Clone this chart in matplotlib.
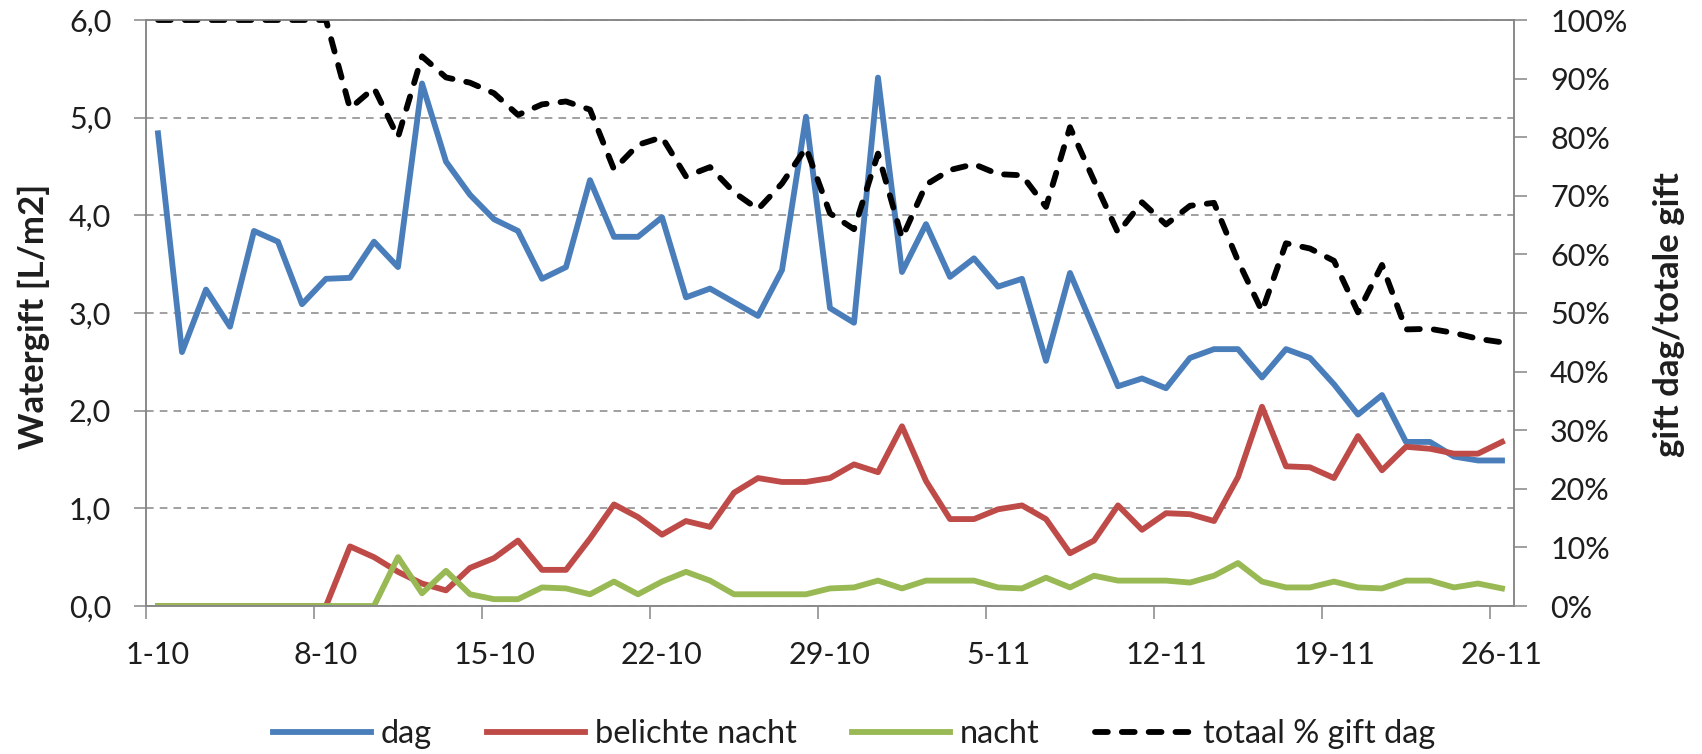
import matplotlib
matplotlib.use("Agg")
import matplotlib.pyplot as plt
from matplotlib.ticker import FixedLocator, FuncFormatter

plt.rcParams['font.family'] = ['Lato', 'DejaVu Sans']

# daily values, 1-10 .. 26-11
dag = [4.84, 2.60, 3.24, 2.86, 3.84, 3.73, 3.09, 3.35, 3.36, 3.73,
       3.47, 5.35, 4.55, 4.21, 3.96, 3.84, 3.35, 3.47, 4.36, 3.78,
       3.78, 3.98, 3.16, 3.25, 3.11, 2.97, 3.44, 5.01, 3.05, 2.90,
       5.41, 3.42, 3.91, 3.37, 3.56, 3.27, 3.35, 2.51, 3.41, 2.83,
       2.25, 2.33, 2.23, 2.54, 2.63, 2.63, 2.34, 2.63, 2.54, 2.27,
       1.96, 2.16, 1.68, 1.68, 1.53, 1.49, 1.49]
belichte_nacht = [0, 0, 0, 0, 0, 0, 0, 0, 0.61, 0.50,
                  0.35, 0.23, 0.16, 0.39, 0.49, 0.67, 0.37, 0.37, 0.69, 1.04,
                  0.91, 0.73, 0.87, 0.81, 1.16, 1.31, 1.27, 1.27, 1.31, 1.45,
                  1.37, 1.84, 1.28, 0.89, 0.89, 0.99, 1.03, 0.89, 0.54, 0.67,
                  1.03, 0.78, 0.95, 0.94, 0.87, 1.32, 2.04, 1.43, 1.42, 1.31,
                  1.74, 1.39, 1.63, 1.61, 1.56, 1.56, 1.68]
nacht = [0, 0, 0, 0, 0, 0, 0, 0, 0, 0,
         0.50, 0.13, 0.36, 0.12, 0.07, 0.07, 0.19, 0.18, 0.12, 0.25,
         0.12, 0.25, 0.35, 0.26, 0.12, 0.12, 0.12, 0.12, 0.18, 0.19,
         0.26, 0.18, 0.26, 0.26, 0.26, 0.19, 0.18, 0.29, 0.19, 0.31,
         0.26, 0.26, 0.26, 0.24, 0.31, 0.44, 0.25, 0.19, 0.19, 0.25,
         0.19, 0.18, 0.26, 0.26, 0.19, 0.23, 0.18]
pct_dag = [100, 100, 100, 100, 100, 100, 100, 100, 84.9, 88.4,
           80.0, 93.8, 90.2, 89.3, 87.5, 83.8, 85.6, 86.1, 84.7, 74.5,
           78.7, 80.0, 73.3, 74.9, 70.6, 67.7, 72.1, 78.2, 67.0, 64.3,
           77.2, 62.8, 71.9, 74.4, 75.4, 73.7, 73.5, 68.1, 81.7, 72.6,
           63.7, 68.9, 65.1, 68.3, 68.8, 58.9, 50.3, 61.9, 61.0, 58.9,
           50.1, 58.2, 47.2, 47.3, 46.6, 45.6, 45.0]
date_labels = ['1-10', '8-10', '15-10', '22-10', '29-10', '5-11', '12-11', '19-11', '26-11']

days = list(range(len(dag)))
gray = '#868686'
txt = '#1e1e1e'
fs = 22

fig = plt.figure(figsize=(17.02, 7.54), dpi=100)
ax = fig.add_axes([146 / 1702, 1 - 606 / 754, 1368 / 1702, 586 / 754])
ax2 = ax.twinx()

lw = 4.2
l1, = ax.plot(days, dag, color='#4A7EBB', lw=lw, solid_joinstyle='round', label='dag')
l2, = ax.plot(days, belichte_nacht, color='#BE4B48', lw=lw, solid_joinstyle='round', label='belichte nacht')
l3, = ax.plot(days, nacht, color='#98B954', lw=lw, solid_joinstyle='round', label='nacht')
l4, = ax2.plot(days, pct_dag, color='black', lw=lw, dashes=(2.2, 2.4), dash_capstyle='round',
               label='totaal % gift dag')

ax.set_xlim(-0.5, len(dag) - 0.5)
ax.set_ylim(0, 6)
ax2.set_ylim(0, 100)

# y axes
ax.set_yticks(range(7))
ax.yaxis.set_major_formatter(FuncFormatter(lambda v, p: f'{v:.1f}'.replace('.', ',')))
ax.yaxis.grid(True, color=gray, lw=1.1, dashes=(5, 4))
ax.set_axisbelow(True)
ax2.set_yticks(range(0, 101, 10))
ax2.yaxis.set_major_formatter(FuncFormatter(lambda v, p: f'{v:.0f}%'))

ax.tick_params(axis='y', length=9, width=1.1, color=gray, pad=16, labelsize=fs, labelcolor=txt)
ax2.tick_params(axis='y', length=9, width=1.1, color=gray, pad=17, labelsize=fs, labelcolor=txt)

# x axis: tick marks between weeks, labels on the dates
ax.xaxis.set_major_locator(FixedLocator([-0.5 + 7 * k for k in range(len(date_labels))]))
ax.xaxis.set_minor_locator(FixedLocator([7 * k for k in range(len(date_labels))]))
ax.xaxis.set_major_formatter(FuncFormatter(lambda v, p: ''))
ax.set_xticklabels(date_labels, minor=True)
ax.tick_params(axis='x', which='major', length=9, width=1.1, color=gray)
ax.tick_params(axis='x', which='minor', length=0, pad=25, labelsize=fs, labelcolor=txt)

for a in (ax, ax2):
    for s in a.spines.values():
        s.set_color(gray)
        s.set_linewidth(1.1)

fig.text(34 / 1702, 1 - 316 / 754, 'Watergift [L/m2]', rotation=90, fontsize=25,
         fontweight='bold', ha='center', va='center', color=txt)
fig.text(1669 / 1702, 1 - 315 / 754, 'gift dag/totale gift', rotation=90, fontsize=25,
         fontweight='bold', ha='center', va='center', color=txt)

fig.legend(handles=[l1, l2, l3, l4], loc='center', bbox_to_anchor=(854 / 1702, 1 - 734 / 754),
           ncol=4, frameon=False, fontsize=23.5, handlelength=3.0, handletextpad=0.3,
           columnspacing=1.7, labelcolor=txt)

fig.savefig('out.png', dpi=100)
